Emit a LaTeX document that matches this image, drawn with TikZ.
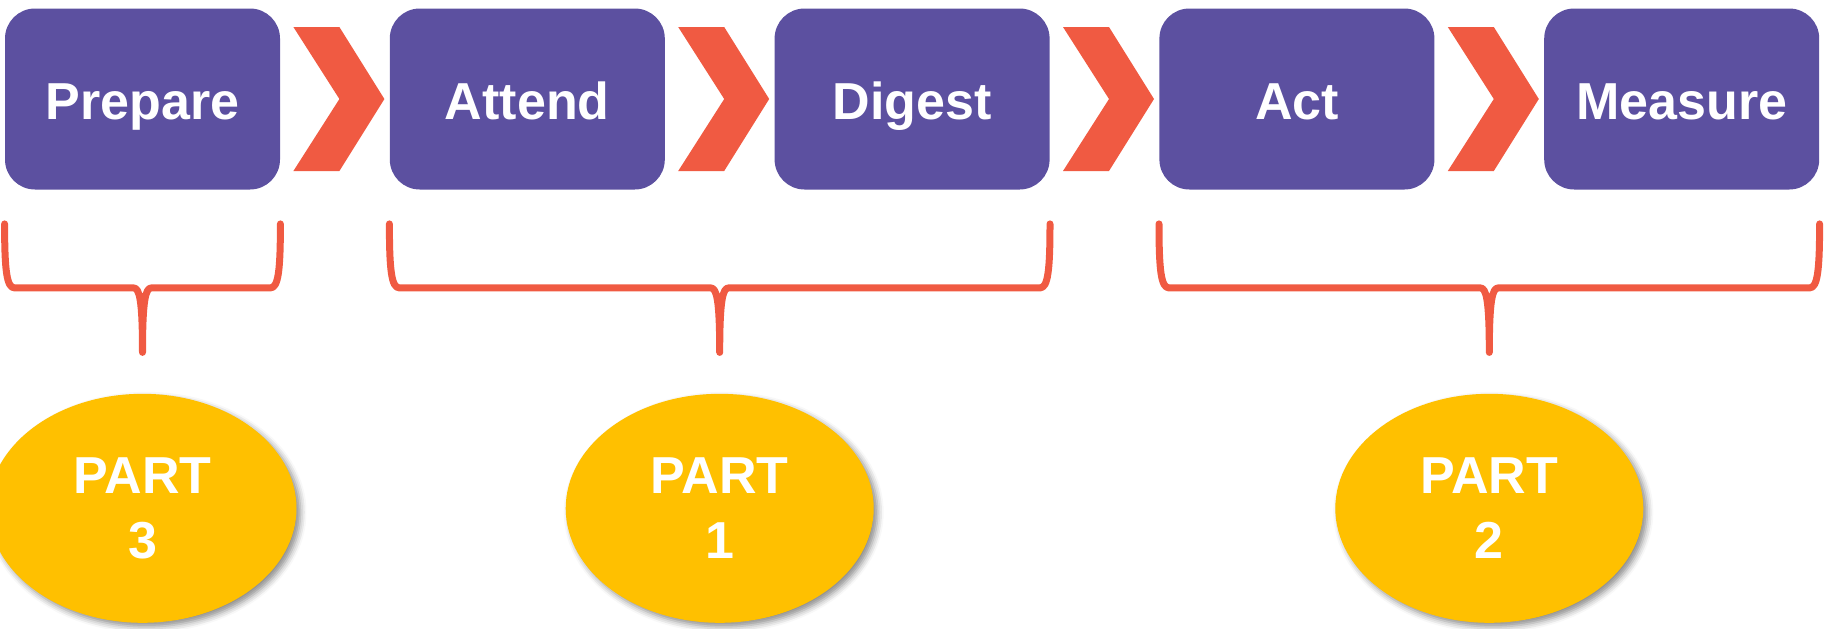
\documentclass[tikz,border=0pt]{standalone}
\usepackage{fontspec}
\setmainfont{Liberation Sans}
\usetikzlibrary{positioning,shapes.geometric,shadows.blur,calc}
\definecolor{stageblue}{RGB}{92,80,160}
\definecolor{chevred}{RGB}{240,90,66}
\definecolor{partgold}{RGB}{255,192,0}

\newcommand{\partbrace}[3]{%
  \draw[partline] let \p1=(#1.south west), \p2=(#2.south east), \p3=(#3.north) in
    ({\x1},{\y1-17pt}) .. controls ({\x1},{\y1-40pt}) and ({\x1+1pt},{\y1-49pt}) .. ({\x1+5pt},{\y1-49pt})
    -- ({\x3-4.5pt},{\y1-49pt}) .. controls ({\x3-1.5pt},{\y1-49pt}) and ({\x3},{\y1-55pt}) .. ({\x3},{\y3+20.5pt})
    .. controls ({\x3},{\y1-55pt}) and ({\x3+1.5pt},{\y1-49pt}) .. ({\x3+4.5pt},{\y1-49pt})
    -- ({\x2-5pt},{\y1-49pt}) .. controls ({\x2-1pt},{\y1-49pt}) and ({\x2},{\y1-40pt}) .. ({\x2},{\y1-17pt});
}

\begin{document}
\begin{tikzpicture}[x=0.5pt,y=-0.5pt,node distance=54.5pt]
  \tikzstyle{stage}=[rectangle,rounded corners=15pt,fill=stageblue,text=white,
                     minimum width=137.5pt,minimum height=90.5pt,
                     font=\fontsize{26}{31}\selectfont\bfseries,text height=20pt,text depth=0pt]
  \tikzstyle{partoval}=[ellipse,fill=partgold,text=white,inner sep=0pt,
                        minimum width=154pt,minimum height=114.5pt,
                        align=center,font=\fontsize{26}{32.5}\selectfont\bfseries,
                        blur shadow={shadow xshift=2pt,shadow yshift=-2pt,
                                     shadow blur radius=3pt,shadow opacity=45}]
  \tikzstyle{chev}=[fill=chevred]
  \tikzstyle{partline}=[draw=chevred,line width=3.5pt,line cap=round,line join=round]
  \useasboundingbox (0,0) rectangle (1826,628);

  % stages
  \node [stage] (prep) at (142.5,99) {Prepare};
  \node [stage] (att)  [right=of prep] {Attend};
  \node [stage] (dig)  [right=of att]  {Digest};
  \node [stage] (act)  [right=of dig]  {Act};
  \node [stage] (meas) [right=of act]  {Measure};

  % chevrons
  \foreach \s in {prep,att,dig,act}
    \fill[chev] ([xshift=6.5pt,yshift=36pt]\s.east) -- ++(23pt,0) -- ++(22.5pt,-36pt)
      -- ++(-22.5pt,-36pt) -- ++(-23pt,0) -- ++(23pt,36pt) -- cycle;

  % parts
  \coordinate (m1) at ($(att.south)!.5!(dig.south)$);
  \coordinate (m2) at ($(act.south)!.5!(meas.south)$);
  \node [partoval] (p3) [below=101.75pt of prep] {PART\\3};
  \node [partoval] (p1) [below=101.75pt of m1]   {PART\\1};
  \node [partoval] (p2) [below=101.75pt of m2]   {PART\\2};

  \partbrace{prep}{prep}{p3}
  \partbrace{att}{dig}{p1}
  \partbrace{act}{meas}{p2}
\end{tikzpicture}
\end{document}
